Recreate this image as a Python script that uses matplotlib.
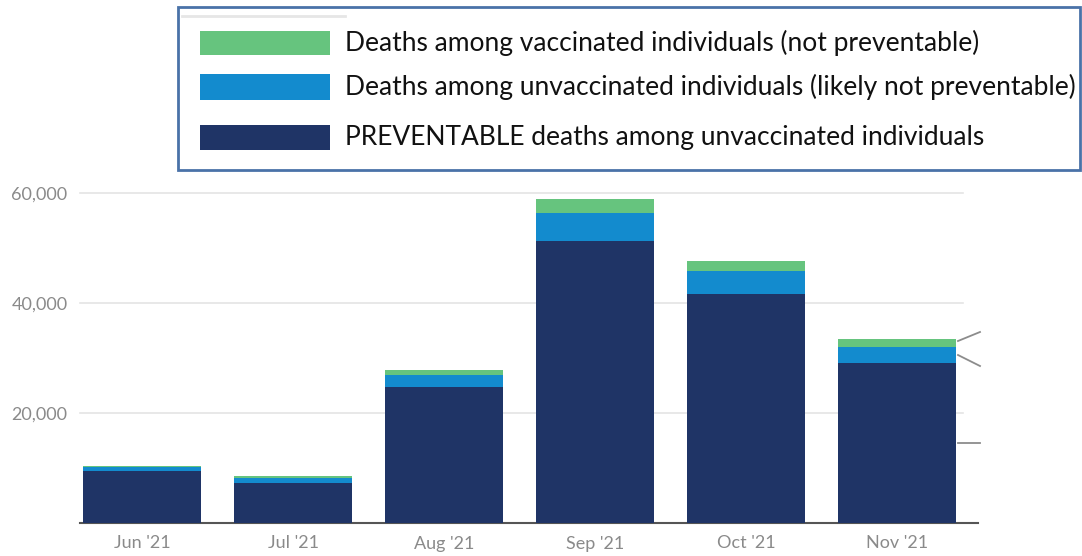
import matplotlib.pyplot as plt
from matplotlib.patches import Rectangle
from matplotlib.lines import Line2D

months = ["Jun '21", "Jul '21", "Aug '21", "Sep '21", "Oct '21", "Nov '21"]
preventable = [9450, 7270, 24700, 51300, 41600, 29100]
unvax_not_prev = [800, 850, 2200, 5100, 4200, 2900]
vaccinated = [150, 360, 900, 2500, 1800, 1500]

labels = ["Deaths among vaccinated individuals (not preventable)",
          "Deaths among unvaccinated individuals (likely not preventable)",
          "PREVENTABLE deaths among unvaccinated individuals"]
colors = ["#66c47e", "#138bce", "#1f3466"]

plt.rcParams['font.family'] = ['Lato', 'DejaVu Sans']

W, H = 1082, 556
fig = plt.figure(figsize=(W / 100, H / 100), dpi=100)

def fx(px):
    return px / W

def fy(py):
    return 1 - py / H

ax = fig.add_axes([fx(80), fy(523), fx(978) - fx(80), fy(193) - fy(523)])
x = range(len(months))
w = 0.78
ax.bar(x, preventable, w, color=colors[2], zorder=3)
bottom2 = [a for a in preventable]
ax.bar(x, unvax_not_prev, w, bottom=bottom2, color=colors[1], zorder=3)
bottom3 = [a + b for a, b in zip(preventable, unvax_not_prev)]
ax.bar(x, vaccinated, w, bottom=bottom3, color=colors[0], zorder=3)

ax.set_xlim(-0.411, 5.536)
ax.set_ylim(0, 60000)
for v in [20000, 40000, 60000]:
    ax.axhline(v, xmin=0, xmax=0.983, color="#e4e4e4", lw=1.2, zorder=1, clip_on=False)
ax.set_yticks([20000, 40000, 60000])
ax.set_yticklabels(["20,000", "40,000", "60,000"])
ax.set_xticks(list(x))
ax.set_xticklabels(months)
ax.tick_params(length=0, colors="#8a8a8a", labelsize=13)
ax.tick_params(axis='y', pad=9)
ax.tick_params(axis='x', pad=9)
for s in ["top", "right", "left"]:
    ax.spines[s].set_visible(False)
ax.spines["bottom"].set_color("#555555")
ax.spines["bottom"].set_linewidth(1.5)

# leader lines at the right edge
for (x0, y0, x1, y1) in [(958, 341, 980, 332), (958, 355, 980, 366), (958, 443, 980, 443)]:
    fig.add_artist(Line2D([fx(x0), fx(x1)], [fy(y0), fy(y1)], color="#8c8c8c", lw=1.3))

# legend box
fig.add_artist(Rectangle((fx(178), fy(170)), fx(1080) - fx(178), fy(7) - fy(170),
                         facecolor="white", edgecolor="#4a72a8", lw=2))
fig.add_artist(Line2D([fx(182), fx(345)], [fy(16), fy(16)], color="#e6e6e6", lw=2))
rows = [(31, 55), (74, 100), (125, 150)]
for (top, bot), lab, c in zip(rows, labels, colors):
    fig.add_artist(Rectangle((fx(200), fy(bot)), fx(330) - fx(200), fy(top) - fy(bot),
                             facecolor=c, edgecolor="none"))
    fig.text(fx(345), fy((top + bot) / 2), lab, fontsize=19, color="#111111",
             va="center", ha="left")

fig.savefig("out.png", dpi=100)
